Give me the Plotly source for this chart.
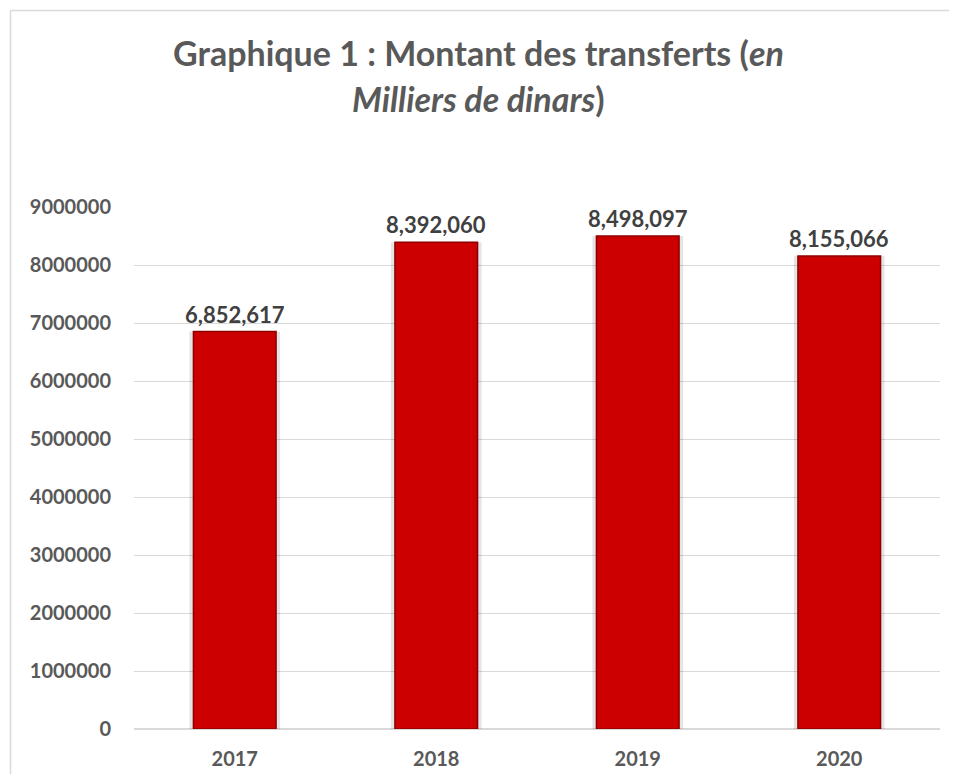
import plotly.graph_objects as go

years = ["2017", "2018", "2019", "2020"]
amounts = [6852617, 8392060, 8498097, 8155066]
tick_vals = [0, 1000000, 2000000, 3000000, 4000000, 5000000, 6000000, 7000000, 8000000, 9000000]
tick_text = ["0", "1000000", "2000000", "3000000", "4000000", "5000000", "6000000", "7000000", "8000000", "9000000"]
labels = [f"{v:,}" for v in amounts]

# page has an 8px body margin; work in page pixels and convert
OFF = 8
W, H = 957 - 2 * OFF, 782 - 2 * OFF
ml = 134 - OFF
mt = 207 - OFF
mr = W - (940 - OFF)
mb = H - (729 - OFF)
pw, ph = W - ml - mr, H - mt - mb

FONT = "Lato"
GRAY = "#595959"

fig = go.Figure()
# soft shadow behind bars
fig.add_trace(go.Bar(
    x=years, y=amounts, width=0.45,
    marker=dict(color="rgba(0,0,0,0.10)", line=dict(width=0)),
    hoverinfo="skip", showlegend=False,
))
fig.add_trace(go.Bar(
    x=years, y=amounts, width=0.41,
    marker=dict(color="#CC0000", line=dict(color="#8E0000", width=1.5)),
    showlegend=False,
))

# data labels (x given as category index)
for i, (v, lab) in enumerate(zip(amounts, labels)):
    fig.add_annotation(x=i, y=v, text=f"<b>{lab}</b>", showarrow=False,
                       yanchor="bottom", yshift=2,
                       font=dict(family=FONT, size=22, color="#404040"))

fig.update_layout(
    width=W, height=H,
    margin=dict(l=ml, r=mr, t=mt, b=mb, autoexpand=False),
    paper_bgcolor="white", plot_bgcolor="white",
    barmode="overlay",
    font=dict(family=FONT, color=GRAY),
    xaxis=dict(
        type="category", categoryorder="array", categoryarray=years,
        range=[-0.5, len(years) - 0.5], automargin=False,
        showgrid=False, showline=False, ticks="",
        tickfont=dict(family=FONT, size=20, color=GRAY, weight="bold"),
        ticklabelstandoff=16,
    ),
    yaxis=dict(
        range=[0, 9000000], tickvals=tick_vals, ticktext=tick_text,
        automargin=False,
        showgrid=True, gridcolor="#D9D9D9", gridwidth=1.3,
        zeroline=True, zerolinecolor="#D9D9D9", zerolinewidth=2,
        showline=False, ticks="",
        tickfont=dict(family=FONT, size=20, color=GRAY, weight="bold"),
        ticklabelstandoff=22,
    ),
)

def px_x(p):
    return (p - OFF - ml) / pw

def px_y(p):
    return (H - mb - (p - OFF)) / ph

# chart border (top and left edges visible in the frame)
fig.add_shape(type="line", xref="paper", yref="paper",
              x0=px_x(10.5), x1=px_x(990), y0=px_y(10.5), y1=px_y(10.5),
              line=dict(color="#D9D9D9", width=1.5), layer="below")
fig.add_shape(type="line", xref="paper", yref="paper",
              x0=px_x(10.5), x1=px_x(10.5), y0=px_y(10.5), y1=px_y(820),
              line=dict(color="#D9D9D9", width=1.5), layer="below")

# title (two lines)
fig.add_annotation(xref="paper", yref="paper", x=px_x(478), y=px_y(75),
                   yanchor="bottom", xanchor="center", showarrow=False,
                   text="<b>Graphique 1 : Montant des transferts (<i>en</i></b>",
                   font=dict(family=FONT, size=34, color=GRAY))
fig.add_annotation(xref="paper", yref="paper", x=px_x(478), y=px_y(121),
                   yanchor="bottom", xanchor="center", showarrow=False,
                   text="<b><i>Milliers de dinars</i>)</b>",
                   font=dict(family=FONT, size=34, color=GRAY))

fig.write_html("out.html")
